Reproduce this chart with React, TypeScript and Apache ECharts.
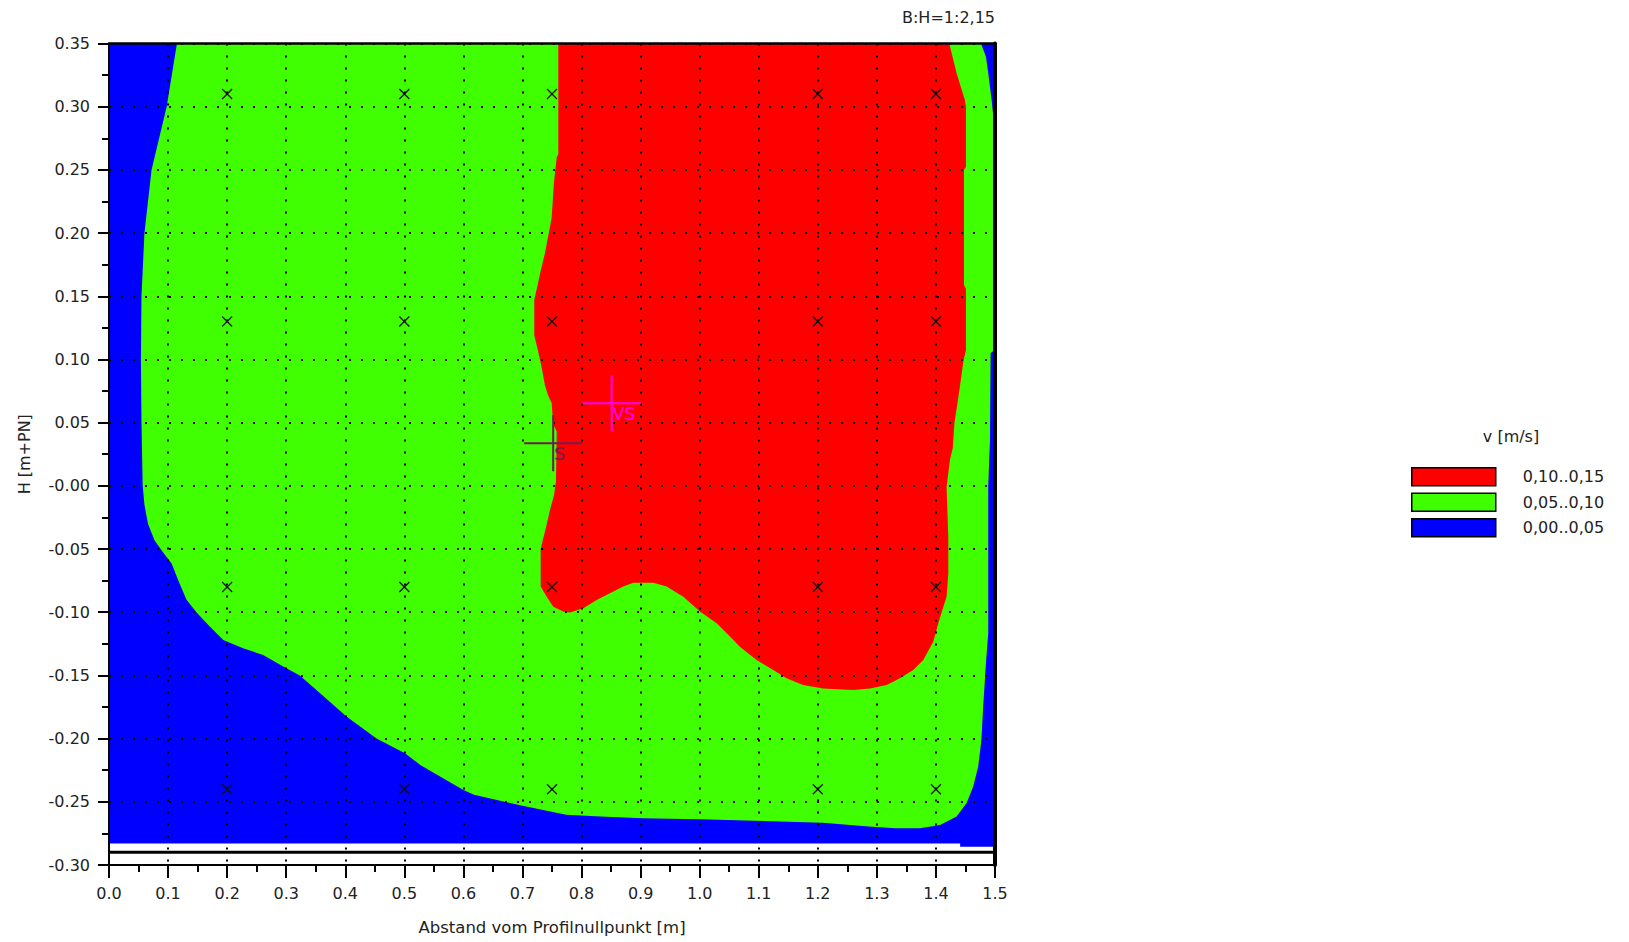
import React, { useEffect, useRef } from 'react';
import * as echarts from 'echarts';

// ---- tick labels ----
const xTickLabels = ['0.0', '0.1', '0.2', '0.3', '0.4', '0.5', '0.6', '0.7', '0.8', '0.9', '1.0', '1.1', '1.2', '1.3', '1.4', '1.5'];
const yTickLabels = ['-0.30', '-0.25', '-0.20', '-0.15', '-0.10', '-0.05', '-0.00', '0.05', '0.10', '0.15', '0.20', '0.25', '0.30', '0.35'];

// ---- velocity classes (legend order) ----
const classNames = ['0,10..0,15', '0,05..0,10', '0,00..0,05'];
const classColors = ['#FF0000', '#3FFF00', '#0000FF'];

// ---- class areas (x [m], H [m+PN]) ----
const blueArea: number[][] = [
  [0, 0.35], [1.5, 0.35], [1.5, -0.2855], [1.441, -0.2855], [1.441, -0.283], [0, -0.283],
];

const greenArea: number[][] = [
  [0.115, 0.35], [1.4763, 0.35], [1.4847, 0.3396], [1.4886, 0.3264], [1.4943, 0.3053], [1.5, 0.279],
  [1.5, 0.108], [1.4926, 0.105], [1.4915, 0.036], [1.4886, 0.0], [1.4886, -0.1166], [1.4847, -0.14],
  [1.48, -0.175], [1.477, -0.201], [1.4716, -0.222], [1.463, -0.238], [1.452, -0.251], [1.435, -0.2617],
  [1.407, -0.2683], [1.373, -0.2709], [1.331, -0.2709], [1.286, -0.2696], [1.208, -0.2665], [1.0, -0.2638],
  [0.903, -0.263], [0.832, -0.2617], [0.774, -0.2603], [0.7, -0.2532], [0.618, -0.2445], [0.6, -0.2406],
  [0.527, -0.2208], [0.501, -0.2116], [0.453, -0.2], [0.402, -0.1826], [0.357, -0.164], [0.323, -0.15],
  [0.295, -0.143], [0.261, -0.1338], [0.227, -0.1285], [0.1935, -0.122], [0.171, -0.1114], [0.148, -0.1],
  [0.131, -0.09], [0.117, -0.0745], [0.106, -0.0615], [0.092, -0.053], [0.077, -0.043], [0.066, -0.03],
  [0.06, -0.015], [0.057, 0.0], [0.055, 0.05], [0.054, 0.1], [0.055, 0.15], [0.06, 0.2], [0.072, 0.25],
  [0.0976, 0.3],
];

const redArea: number[][] = [
  [0.7607, 0.35], [1.4226, 0.35], [1.435, 0.3264], [1.449, 0.3053], [1.4508, 0.3], [1.4508, 0.2525],
  [1.4475, 0.25], [1.4475, 0.159], [1.4508, 0.156], [1.4508, 0.1075], [1.4466, 0.099], [1.4398, 0.076],
  [1.4313, 0.0496], [1.4285, 0.03], [1.4237, 0.0205], [1.4209, 0.0099], [1.418, -0.001], [1.4209, -0.04],
  [1.421, -0.069], [1.418, -0.0877], [1.4096, -0.1002], [1.404, -0.1088], [1.3955, -0.1233], [1.3786, -0.1378],
  [1.3616, -0.1457], [1.339, -0.1523], [1.3166, -0.1576], [1.2884, -0.1603], [1.26, -0.1616], [1.209, -0.1603],
  [1.175, -0.1576], [1.147, -0.1523], [1.1245, -0.1457], [1.0963, -0.1378], [1.068, -0.1273], [1.0513, -0.1193],
  [1.0287, -0.1088], [1.0005, -0.0995], [0.9722, -0.0877], [0.944, -0.0797], [0.9214, -0.0766], [0.8876, -0.0766],
  [0.8707, -0.0797], [0.848, -0.085], [0.8256, -0.0903], [0.803, -0.0969], [0.7804, -0.1003], [0.769, -0.0995],
  [0.7522, -0.0956], [0.741, -0.0877], [0.7308, -0.0797], [0.7308, -0.05], [0.7336, -0.0444], [0.7398, -0.033],
  [0.7466, -0.019], [0.7533, -0.0077], [0.7567, 0.0035], [0.758, 0.043], [0.7522, 0.0486], [0.7494, 0.0655],
  [0.7437, 0.071], [0.738, 0.0796], [0.7325, 0.0936], [0.7257, 0.108], [0.72, 0.119], [0.72, 0.147],
  [0.724, 0.1556], [0.7308, 0.17], [0.738, 0.184], [0.7437, 0.198], [0.7494, 0.212], [0.7533, 0.24],
  [0.758, 0.26], [0.7607, 0.2626],
];

// ---- measurement points ----
const measureX = [0.2, 0.5, 0.75, 1.2, 1.4];
const measureY = [0.31, 0.13, -0.08, -0.24];

// ---- centroids ----
const centroidNames = ['S', 'VS'];
const centroidX = [0.752, 0.851];
const centroidY = [0.0337, 0.0653];
const centroidColors = ['#6E1E52', '#FF00FF'];

// ---- bed line ----
const bedLevel = -0.29;

const FONT = "'DejaVu Sans', Verdana, sans-serif";
const TEXT = '#222';

function areaSeries(name: string, color: string, pts: number[][]) {
  return {
    type: 'custom',
    name,
    z: 1,
    silent: true,
    itemStyle: { color },
    data: [[pts[0][0], pts[0][1]]],
    renderItem: (_params: any, api: any) => ({
      type: 'polygon',
      shape: { points: pts.map((p) => api.coord(p)) },
      style: { fill: color },
    }),
  };
}

export default function App() {
  const ref = useRef<HTMLDivElement>(null);

  useEffect(() => {
    if (!ref.current) return;
    const chart = echarts.init(ref.current, null, { renderer: 'svg' });

    const markerData: number[][] = [];
    measureY.forEach((y) => measureX.forEach((x) => markerData.push([x, y])));
    const centroidData = centroidX.map((x, i) => [x, centroidY[i], i]);

    const option: any = {
      animation: false,
      grid: { left: 109, right: 634, top: 43.5, bottom: 77, containLabel: false },
      legend: {
        data: classNames,
        orient: 'vertical',
        left: 1411,
        top: 467,
        padding: 0,
        itemWidth: 84,
        itemHeight: 18,
        itemGap: 6,
        icon: 'rect',
        selectedMode: false,
        itemStyle: { borderColor: '#000', borderWidth: 1.5 },
        textStyle: { fontFamily: FONT, fontSize: 16, color: TEXT, padding: [0, 0, 0, 22] },
      },
      graphic: [
        {
          type: 'text', x: 995, y: 17,
          style: { text: 'B:H=1:2,15', font: `16px ${FONT}`, fill: TEXT, textAlign: 'right', textVerticalAlign: 'middle' },
        },
        {
          type: 'text', x: 1511, y: 436,
          style: { text: 'v [m/s]', font: `16px ${FONT}`, fill: TEXT, textAlign: 'center', textVerticalAlign: 'middle' },
        },
      ],
      xAxis: [
        {
          type: 'value', min: 0, max: 1.5, interval: 0.1, position: 'bottom', z: 3,
          name: 'Abstand vom Profilnullpunkt [m]', nameLocation: 'middle', nameGap: 54,
          nameTextStyle: { fontFamily: FONT, fontSize: 16.5, color: TEXT },
          axisLine: { onZero: false, lineStyle: { color: '#000', width: 2 } },
          axisTick: { show: true, length: 13, lineStyle: { color: '#000', width: 2 } },
          minorTick: { show: true, splitNumber: 2, length: 7, lineStyle: { color: '#000', width: 2 } },
          axisLabel: {
            margin: 20, fontFamily: FONT, fontSize: 16, color: TEXT,
            formatter: (v: number) => xTickLabels[Math.round(v / 0.1)] ?? '',
          },
          splitLine: { show: true, lineStyle: { color: '#000', width: 2, type: [2, 10] } },
        },
        {
          type: 'value', min: 0, max: 1.5, position: 'top', z: 3,
          axisLine: { show: true, onZero: false, lineStyle: { color: '#000', width: 2.5 } },
          axisTick: { show: false }, axisLabel: { show: false }, splitLine: { show: false },
        },
      ],
      yAxis: [
        {
          type: 'value', min: -0.3, max: 0.35, interval: 0.05, position: 'left', z: 3,
          name: 'H [m+PN]', nameLocation: 'middle', nameGap: 77,
          nameTextStyle: { fontFamily: FONT, fontSize: 16, color: TEXT },
          axisLine: { show: true, onZero: false, lineStyle: { color: '#000', width: 2 } },
          axisTick: { show: true, length: 11, lineStyle: { color: '#000', width: 2 } },
          minorTick: { show: true, splitNumber: 2, length: 7, lineStyle: { color: '#000', width: 2 } },
          axisLabel: {
            margin: 19, fontFamily: FONT, fontSize: 16, color: TEXT,
            formatter: (v: number) => yTickLabels[Math.round((v + 0.3) / 0.05)] ?? '',
          },
          splitLine: { show: true, lineStyle: { color: '#000', width: 2, type: [2, 10] } },
        },
        {
          type: 'value', min: -0.3, max: 0.35, position: 'right', z: 3,
          axisLine: { show: true, onZero: false, lineStyle: { color: '#000', width: 4 } },
          axisTick: { show: false }, axisLabel: { show: false }, splitLine: { show: false },
        },
      ],
      series: [
        areaSeries(classNames[2], classColors[2], blueArea),
        areaSeries(classNames[1], classColors[1], greenArea),
        areaSeries(classNames[0], classColors[0], redArea),
        {
          type: 'line', z: 4, silent: true, symbol: 'none',
          data: [[0, bedLevel], [1.5, bedLevel]],
          lineStyle: { color: '#000', width: 3 },
        },
        {
          type: 'custom', z: 5, silent: true, data: markerData,
          renderItem: (_p: any, api: any) => {
            const c = api.coord([api.value(0), api.value(1)]);
            const h = 5;
            return {
              type: 'group',
              children: [
                { type: 'line', shape: { x1: c[0] - h, y1: c[1] - h, x2: c[0] + h, y2: c[1] + h }, style: { stroke: '#111', lineWidth: 1.3 } },
                { type: 'line', shape: { x1: c[0] - h, y1: c[1] + h, x2: c[0] + h, y2: c[1] - h }, style: { stroke: '#111', lineWidth: 1.3 } },
              ],
            };
          },
        },
        {
          type: 'custom', z: 6, silent: true, data: centroidData,
          renderItem: (_p: any, api: any) => {
            const i = api.value(2);
            const c = api.coord([api.value(0), api.value(1)]);
            const col = centroidColors[i];
            return {
              type: 'group',
              children: [
                { type: 'line', shape: { x1: c[0] - 29, y1: c[1], x2: c[0] + 29, y2: c[1] }, style: { stroke: col, lineWidth: 2 } },
                { type: 'line', shape: { x1: c[0], y1: c[1] - 28, x2: c[0], y2: c[1] + 28 }, style: { stroke: col, lineWidth: 2 } },
                {
                  type: 'text', x: c[0] + 1, y: c[1] + 11,
                  style: { text: centroidNames[i], fill: col, font: `17px ${FONT}`, textAlign: 'left', textVerticalAlign: 'middle' },
                },
              ],
            };
          },
        },
      ],
    };

    chart.setOption(option);
    return () => chart.dispose();
  }, []);

  return (
    <div
      ref={ref}
      style={{ position: 'absolute', left: 0, top: 0, width: 1629, height: 942, background: '#fff' }}
    />
  );
}
